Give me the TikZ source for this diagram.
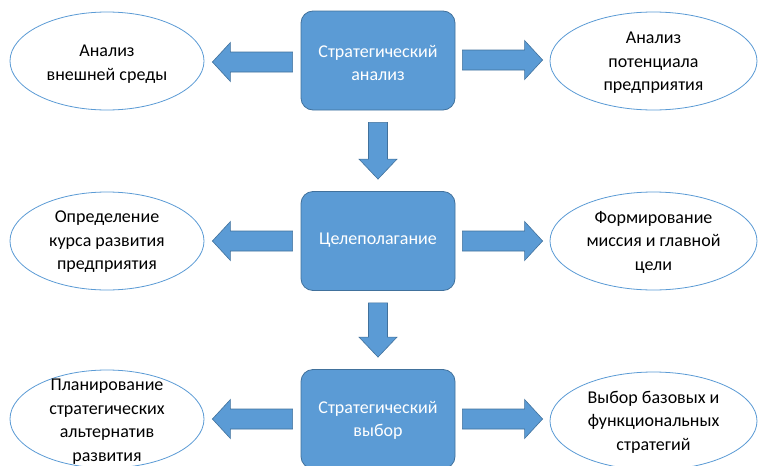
\documentclass[tikz,border=0pt]{standalone}
\usepackage{fontspec}
\setmainfont{Carlito}
\usetikzlibrary{calc,shapes.geometric}
\definecolor{boxfill}{HTML}{5B9BD5}
\definecolor{boxline}{HTML}{41719C}
\definecolor{ellline}{HTML}{5B9BD5}
\tikzset{
  stagebox/.style={rectangle, rounded corners=12pt, fill=boxfill, draw=boxline, line width=0.8pt,
    minimum width=154pt, minimum height=99pt, inner sep=0pt, text=white, align=center,
    font=\fontsize{18}{23.5}\selectfont},
  oval/.style={ellipse, draw=ellline, fill=white, line width=0.8pt, inner sep=0pt,
    minimum height=98pt},
  ovaltext/.style={align=center, text=black, inner sep=0pt, font=\fontsize{18}{23.5}\selectfont},
  blockarr/.style={fill=boxfill, draw=boxline, line width=0.6pt, line join=miter}
}
% #1 tail coordinate, #2 tip coordinate, #3 shaft half width, #4 head half width, #5 head length
\newcommand\blockarrow[5]{%
  \coordinate (#1-h) at ($(#2)!#5!(#1)$);
  \draw[blockarr] ($(#1)!#3!90:(#2)$) -- ($(#1-h)!#3!90:(#2)$) -- ($(#1-h)!#4!90:(#2)$) -- (#2)
    -- ($(#1-h)!#4!-90:(#2)$) -- ($(#1-h)!#3!-90:(#2)$) -- ($(#1)!#3!-90:(#2)$) -- cycle;
}
\begin{document}
\begin{tikzpicture}[x=1pt,y=-1pt]
\useasboundingbox (0,0) rectangle (758,466);
% central stages
\node[stagebox] (b1) at (378,60.5) {};
\node[stagebox] (b2) at (378,241) {};
\node[stagebox] (b3) at (378,419) {};
\node[ovaltext, text=white] (tb1) at ($(b1.center)+(0,2.5)$) {Стратегический\\анализ};
\node[ovaltext, text=white] (tb2) at ($(b2.center)+(0,-0.5)$) {Целеполагание};
\node[ovaltext, text=white] (tb3) at ($(b3.center)+(0,1.5)$) {Стратегический\\выбор};
% ovals
\node[oval, minimum width=194pt] (l1) at (107,61) {};
\node[oval, minimum width=194pt] (l2) at (107,241) {};
\node[oval, minimum width=194pt] (l3) at (107,419) {};
\node[oval, minimum width=207pt] (r1) at (653.5,61) {};
\node[oval, minimum width=207pt] (r2) at (653.5,241) {};
\node[oval, minimum width=207pt] (r3) at (653.5,421) {};
\node[ovaltext] (tl1) at ($(l1.center)+(0,3)$) {Анализ\\внешней среды};
\node[ovaltext] (tl2) at ($(l2.center)+(0,1)$) {Определение\\курса развития\\предприятия};
\node[ovaltext] (tl3) at ($(l3.center)+(0,2.5)$) {Планирование\\стратегических\\альтернатив\\развития};
\node[ovaltext] (tr1) at ($(r1.center)+(0,2)$) {Анализ\\потенциала\\предприятия};
\node[ovaltext] (tr2) at ($(r2.center)+(0,1)$) {Формирование\\миссия и главной\\цели};
\node[ovaltext] (tr3) at ($(r3.center)+(0,1)$) {Выбор базовых и\\функциональных\\стратегий};
% arrow end points
\coordinate (a1s) at ($(b1.west)+(-8,1.5)$);
\coordinate (a1t) at ($(l1.east |- a1s)+(8,0)$);
\coordinate (a2s) at ($(b1.east)+(7,-0.5)$);
\coordinate (a2t) at ($(r1.west |- a2s)+(-7,0)$);
\coordinate (a3s) at ($(b1.south)+(0,12)$);
\coordinate (a3t) at ($(b2.north)+(0,-12)$);
\coordinate (a4s) at ($(b2.west)+(-8,0)$);
\coordinate (a4t) at (a4s -| a1t);
\coordinate (a5s) at ($(b2.east)+(7,0)$);
\coordinate (a5t) at (a5s -| a2t);
\coordinate (a6s) at ($(b2.south)+(0,12)$);
\coordinate (a6t) at ($(b3.north)+(0,-12)$);
\coordinate (a7s) at ($(b3.west)+(-8,0)$);
\coordinate (a7t) at (a7s -| a1t);
\coordinate (a8s) at ($(b3.east)+(7,0)$);
\coordinate (a8t) at (a8s -| a2t);
\blockarrow{a1s}{a1t}{10pt}{19.5pt}{18pt}
\blockarrow{a2s}{a2t}{10pt}{19.5pt}{18pt}
\blockarrow{a3s}{a3t}{9.5pt}{19pt}{20pt}
\blockarrow{a4s}{a4t}{10pt}{19.5pt}{18pt}
\blockarrow{a5s}{a5t}{10pt}{19.5pt}{18pt}
\blockarrow{a6s}{a6t}{9.5pt}{19pt}{20pt}
\blockarrow{a7s}{a7t}{10pt}{19.5pt}{18pt}
\blockarrow{a8s}{a8t}{10pt}{19.5pt}{18pt}
\end{tikzpicture}
\end{document}
